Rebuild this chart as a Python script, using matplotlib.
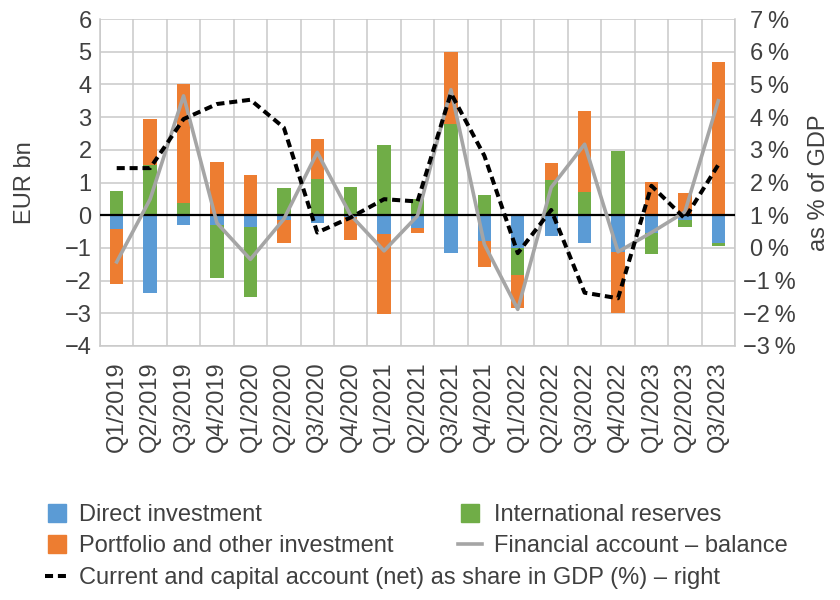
import numpy as np
import matplotlib
matplotlib.use("Agg")
import matplotlib.pyplot as plt  # noqa: E402
from matplotlib.lines import Line2D  # noqa: E402

QUARTERS = ["Q1/2019", "Q2/2019", "Q3/2019", "Q4/2019",
            "Q1/2020", "Q2/2020", "Q3/2020", "Q4/2020",
            "Q1/2021", "Q2/2021", "Q3/2021", "Q4/2021",
            "Q1/2022", "Q2/2022", "Q3/2022", "Q4/2022",
            "Q1/2023", "Q2/2023", "Q3/2023"]
# EUR bn, stacked in this order (direct, reserves, portfolio)
DIRECT = [-0.43, -2.39, -0.31, -0.29, -0.37, -0.15, -0.24, -0.07, -0.59, -0.40,
          -1.17, -0.80, -0.99, -0.65, -0.84, -1.14, -0.53, -0.15, -0.86]
RESERVES = [0.73, 1.54, 0.37, -1.62, -2.12, 0.84, 1.10, 0.85, 2.15, 0.51,
            2.78, 0.62, -0.83, 1.07, 0.72, 1.97, -0.66, -0.20, -0.09]
PORTFOLIO = [-1.68, 1.40, 3.63, 1.63, 1.24, -0.71, 1.23, -0.70, -2.42, -0.13,
             2.22, -0.77, -1.02, 0.52, 2.48, -1.84, 1.01, 0.67, 4.67]
FIN_BALANCE = [-1.43, 0.49, 3.65, -0.24, -1.35, -0.12, 1.92, 0.0, -1.09, -0.02,
               3.84, -0.89, -2.88, 0.85, 2.17, -1.12, -0.53, 0.10, 3.50]
# % of GDP, right axis
CUR_CAP_GDP = [2.44, 2.44, 3.94, 4.40, 4.53, 3.68, 0.47, 0.93, 1.49, 1.42,
               4.73, 2.82, -0.16, 1.16, -1.37, -1.54, 1.90, 0.90, 2.54]

BLUE, ORANGE, GREEN, GREY = "#5b9bd5", "#ed7d31", "#70ad47", "#a5a5a5"
TEXT = "#404040"
GRID = "#c9c9c9"
FS = 17

plt.rcParams["font.family"] = ["Liberation Sans", "DejaVu Sans"]

fig = plt.figure(figsize=(8.4, 6), dpi=100)
ax = fig.add_axes([100 / 840, 1 - 346 / 600, 635 / 840, 327 / 600])
x = np.arange(len(QUARTERS))

pos = np.zeros(len(x))
neg = np.zeros(len(x))
for vals, col in ((DIRECT, BLUE), (RESERVES, GREEN), (PORTFOLIO, ORANGE)):
    v = np.array(vals)
    ax.bar(x, v, 0.4, bottom=np.where(v >= 0, pos, neg), color=col, zorder=2)
    pos += np.clip(v, 0, None)
    neg += np.clip(v, None, 0)

ax.axhline(0, color="black", lw=1.6, zorder=3)
ax.plot(x, FIN_BALANCE, color=GREY, lw=2.6, zorder=4)

ax.set_xlim(-0.5, len(x) - 0.5)
ax.set_ylim(-4, 6)
ax.set_yticks(range(-4, 7))
ax.set_xticks(x)
ax.set_xticklabels(QUARTERS, rotation=90, fontsize=FS, color=TEXT, va="top")
ax.set_xticks(np.arange(len(x) + 1) - 0.5, minor=True)
ax.grid(axis="y", which="major", color=GRID, lw=1.1, zorder=0)
ax.grid(axis="x", which="minor", color=GRID, lw=1.1, zorder=0)
ax.tick_params(axis="x", which="both", length=0, pad=11)
ax.tick_params(axis="y", length=0, pad=6, labelsize=FS, labelcolor=TEXT)
ax.set_axisbelow(True)
for side in ("left", "right", "bottom"):
    ax.spines[side].set_color(GRID)
    ax.spines[side].set_linewidth(1.1)
ax.spines["top"].set_visible(False)

ax2 = ax.twinx()
ax2.plot(x, CUR_CAP_GDP, color="black", lw=2.9, linestyle=(0, (2.0, 1.2)), zorder=5)
ax2.set_ylim(-3, 7)
ax2.set_yticks(range(-3, 8))
ax2.set_yticklabels([f"{v}\u2009%".replace("-", "\u2212") for v in range(-3, 8)])
ax2.tick_params(axis="y", length=0, pad=25, labelsize=FS, labelcolor=TEXT)
for lbl in ax2.get_yticklabels():
    lbl.set_horizontalalignment("center")
for s in ax2.spines.values():
    s.set_visible(False)

fig.text(25 / 840, 1 - 182.5 / 600, "EUR bn", rotation=90, ha="center", va="center",
         fontsize=FS, color=TEXT)
fig.text(819 / 840, 1 - 182.5 / 600, "as % of GDP", rotation=90, ha="center", va="center",
         fontsize=FS, color=TEXT)

sq = dict(marker="s", markersize=12.5, linestyle="none")
col1 = [Line2D([], [], color=BLUE, **sq),
        Line2D([], [], color=ORANGE, **sq),
        Line2D([], [], color="black", lw=2.9, linestyle=(0, (2.0, 1.2)))]
lab1 = ["Direct investment", "Portfolio and other investment",
        "Current and capital account (net) as share in GDP (%) \u2013 right"]
col2 = [Line2D([], [], color=GREEN, **sq),
        Line2D([], [], color=GREY, lw=2.6)]
lab2 = ["International reserves", "Financial account \u2013 balance"]
for hs, ls, x0, tp in ((col1, lab1, 45 / 840, 0.42), (col2, lab2, 458 / 840, 0.52)):
    fig.legend(hs, ls, loc="upper left", bbox_to_anchor=(x0, 1 - 504 / 600),
               frameon=False, borderpad=0, borderaxespad=0, handlelength=1.0,
               handletextpad=tp, labelspacing=0.4, fontsize=FS, labelcolor=TEXT)

fig.savefig("out.png", dpi=100)
